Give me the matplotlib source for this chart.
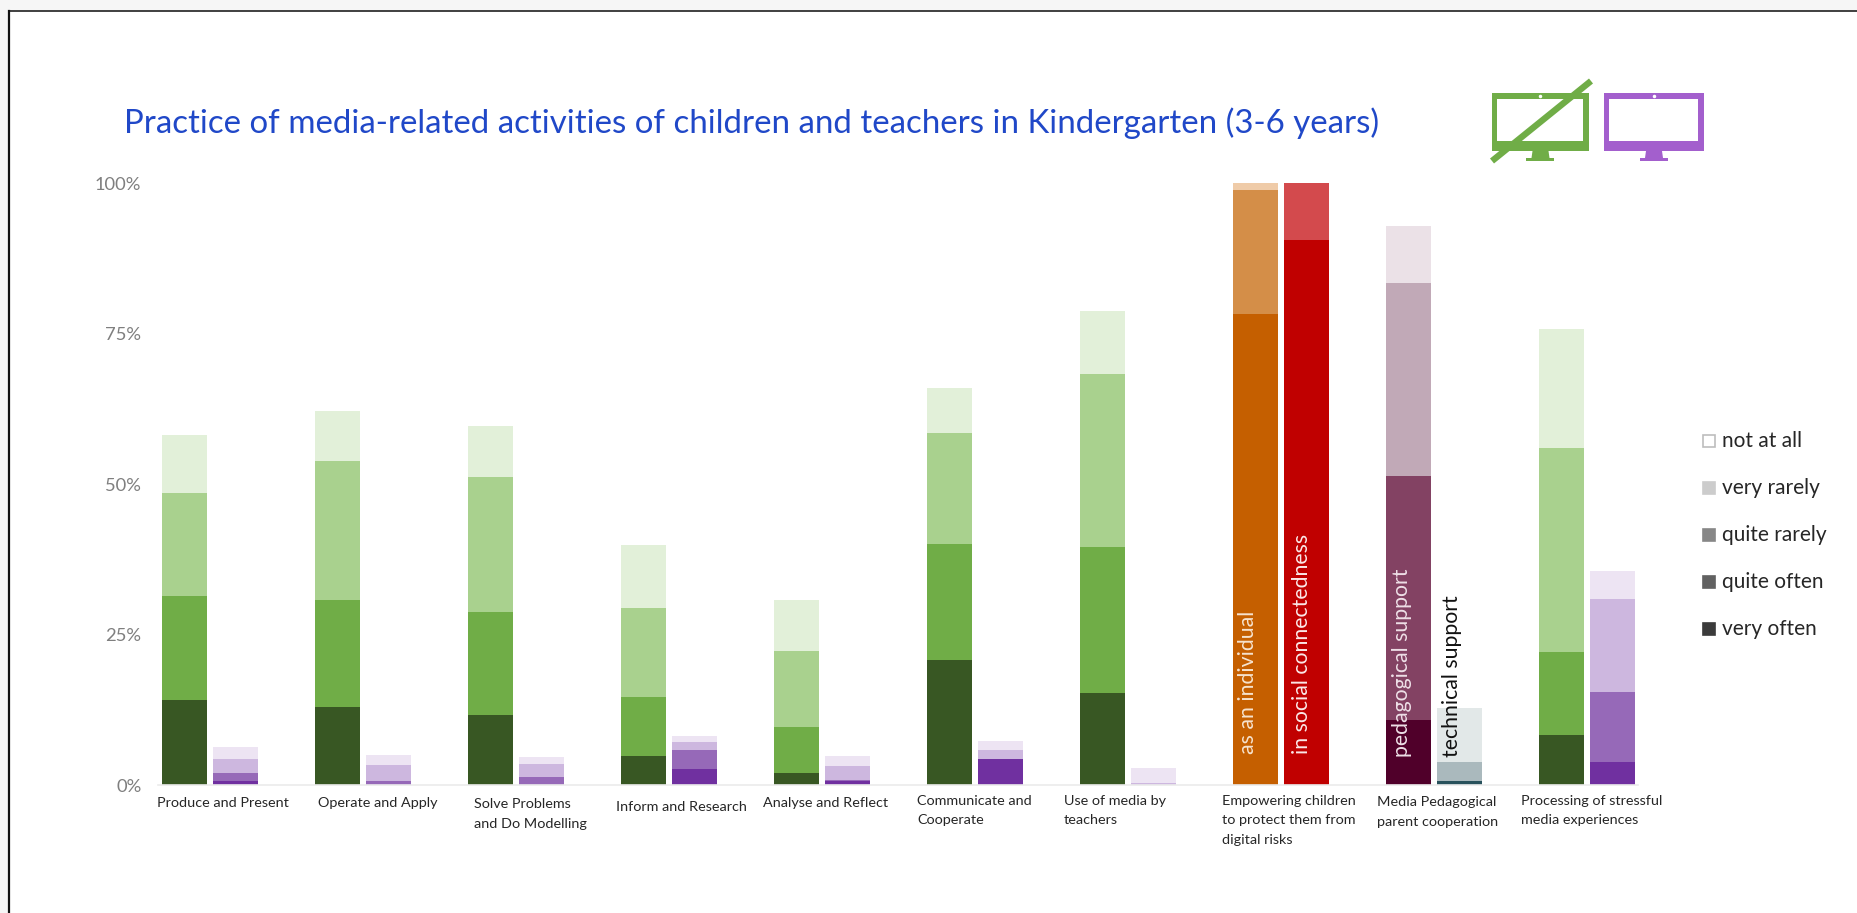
import matplotlib
matplotlib.use("Agg")
import matplotlib.pyplot as plt
from matplotlib.patches import Rectangle, Polygon
import numpy as np

W, H = 1858, 913

title = "Practice of media-related activities of children and teachers in Kindergarten (3-6 years)"
y_ticks = [0, 25, 50, 75, 100]
y_labels = ["0%", "25%", "50%", "75%", "100%"]

# groups that have the green/purple pair
pair_pos = [0, 1, 2, 3, 4, 5, 6, 9]

# no screens, bottom to top: very often ... not at all (very rarely is top visible)
green_very_often = [14.2, 13.0, 11.6, 4.9, 2.0, 20.7, 15.2, 8.3]
green_quite_often = [17.2, 17.8, 17.2, 9.7, 7.7, 19.3, 24.4, 13.8]
green_quite_rarely = [17.1, 23.0, 22.3, 14.8, 12.6, 18.4, 28.6, 33.9]
green_very_rarely = [9.7, 8.3, 8.5, 10.4, 8.5, 7.5, 10.5, 19.7]

# with screens
purple_very_often = [0.7, 0.0, 0.0, 2.7, 0.6, 4.3, 0.0, 3.8]
purple_quite_often = [1.3, 0.7, 1.3, 3.1, 0.3, 0.0, 0.0, 11.6]
purple_quite_rarely = [2.3, 2.6, 2.2, 1.3, 2.3, 1.5, 0.4, 15.5]
purple_very_rarely = [2.0, 1.7, 1.1, 1.1, 1.7, 1.5, 2.5, 4.6]

green_colors = ["#385723", "#70AD47", "#A9D18E", "#E2F0D9"]
purple_colors = ["#7030A0", "#9669B8", "#CDB7DF", "#EDE4F3"]

# the two special groups
individual = [78.3, 20.5, 1.2]
social = [90.5, 9.5]
pedagogical = [10.8, 40.5, 32.1, 9.5]
technical = [0.7, 3.2, 8.9]
individual_colors = ["#C55F00", "#D48E48", "#EFCBA8"]
social_colors = ["#C00000", "#D34A4D"]
pedagogical_colors = ["#50002A", "#834263", "#C1A9B7", "#EBE1E7"]
technical_colors = ["#28525C", "#AAB9BD", "#E2E8E8"]

legend_names = ["not at all", "very rarely", "quite rarely", "quite often", "very often"]
legend_colors = ["#FFFFFF", "#CCCCCC", "#878787", "#616161", "#3B3B3B"]

cat_labels = ["Produce and Present", "Operate and Apply", "Solve Problems\nand Do Modelling",
              "Inform and Research", "Analyse and Reflect", "Communicate and\nCooperate",
              "Use of media by\nteachers", "Empowering children\nto protect them from\ndigital risks",
              "Media Pedagogical\nparent cooperation", "Processing of stressful\nmedia experiences"]
cat_label_x = [157, 318, 474, 616, 763, 917, 1064, 1222, 1377, 1521]
cat_label_y = [797, 797, 798, 801, 797, 795, 795, 795, 796, 795]

bar_width = 45 / 153
bar_gap = 51 / 153


def stack(ax, x, values, colors):
    bottom = 0
    for v, c in zip(values, colors):
        ax.bar(x, v, bar_width, bottom=bottom, color=c, linewidth=0)
        bottom += v


plt.rcParams["font.family"] = ["Lato", "DejaVu Sans"]
fig = plt.figure(figsize=(W / 100, H / 100), dpi=100, facecolor="#F6F6F6")

# overlay in pixel coordinates for frame, icons, legend and text
bg = fig.add_axes([0, 0, 1, 1])
bg.set_xlim(0, W)
bg.set_ylim(H, 0)
bg.axis("off")
bg.add_patch(Rectangle((9, 11), W, H, facecolor="white", edgecolor="none"))
bg.plot([9, W], [11, 11], color="#404040", lw=1.4)
bg.plot([9, 9], [11, H], color="#111111", lw=1.6)

ax = fig.add_axes([158 / W, 1 - 785 / H, (1638 - 158) / W, (785 - 183) / H])
ax.patch.set_alpha(0)
for i, p in enumerate(pair_pos):
    stack(ax, p, [green_very_often[i], green_quite_often[i], green_quite_rarely[i], green_very_rarely[i]], green_colors)
    stack(ax, p + bar_gap, [purple_very_often[i], purple_quite_often[i], purple_quite_rarely[i], purple_very_rarely[i]], purple_colors)
stack(ax, 7, individual, individual_colors)
stack(ax, 7 + bar_gap, social, social_colors)
stack(ax, 8, pedagogical, pedagogical_colors)
stack(ax, 8 + bar_gap, technical, technical_colors)

ax.set_xlim(-26.5 / 153, (1638 - 184.5) / 153)
ax.set_ylim(0, 100)
ax.set_xticks([])
ax.set_yticks(y_ticks)
ax.set_yticklabels(y_labels, fontsize=13.2, color="#7F7F7F")
ax.tick_params(axis="y", length=0, pad=12)
for s in ["top", "left", "right"]:
    ax.spines[s].set_visible(False)
ax.spines["bottom"].set_color("#EBEBEB")
ax.spines["bottom"].set_linewidth(1.2)

fg = fig.add_axes([0, 0, 1, 1])
fg.set_xlim(0, W)
fg.set_ylim(H, 0)
fg.axis("off")
fg.patch.set_alpha(0)

fg.text(124, 123, title, fontsize=23.8, color="#2048C8", va="center", ha="left")

for t, x, y in zip(cat_labels, cat_label_x, cat_label_y):
    fg.text(x, y, t, fontsize=10.35, color="#262626", va="top", ha="left", linespacing=1.75)

# labels inside the bars
fg.text(1248, 754, "as an individual", rotation=90, fontsize=15.3, color="#F6E3CF", ha="center", va="bottom")
fg.text(1302, 754, "in social connectedness", rotation=90, fontsize=15.3, color="#FBE8E8", ha="center", va="bottom")
fg.text(1402, 757, "pedagogical support", rotation=90, fontsize=15.3, color="#EEDFE7", ha="center", va="bottom")
fg.text(1452, 757, "technical support", rotation=90, fontsize=15.3, color="#111111", ha="center", va="bottom")

# legend
legend_y = [441, 488, 535, 582, 629]
for name, c, y in zip(legend_names, legend_colors, legend_y):
    edge = "#BDBDBD" if c == "#FFFFFF" else c
    fg.add_patch(Rectangle((1703.5, y - 6), 12, 12, facecolor=c, edgecolor=edge, lw=1.2))
    fg.text(1722, y, name, fontsize=15, color="#262626", va="center", ha="left")


def monitor(x0, x1, color):
    # screen icon, drawn as frame + stand
    fg.add_patch(Rectangle((x0, 93), x1 - x0, 58, facecolor=color, edgecolor="none"))
    fg.add_patch(Rectangle((x0 + 5.5, 99), x1 - x0 - 11, 42, facecolor="white", edgecolor="none"))
    mid = (x0 + x1) / 2
    fg.add_patch(Polygon([(mid - 8, 151), (mid + 8, 151), (mid + 9, 158), (mid - 9, 158)], facecolor=color, edgecolor="none"))
    fg.add_patch(Rectangle((mid - 14, 158), 28, 3, facecolor=color, edgecolor="none"))
    fg.plot([mid], [96], "o", ms=1.5, color="white")


monitor(1492, 1589, "#70AD47")
monitor(1604, 1704, "#A35FCD")
fg.plot([1492, 1591], [161, 81], color="#70AD47", lw=4.6, solid_capstyle="butt")

fig.savefig("out.png", dpi=100, facecolor=fig.get_facecolor())
